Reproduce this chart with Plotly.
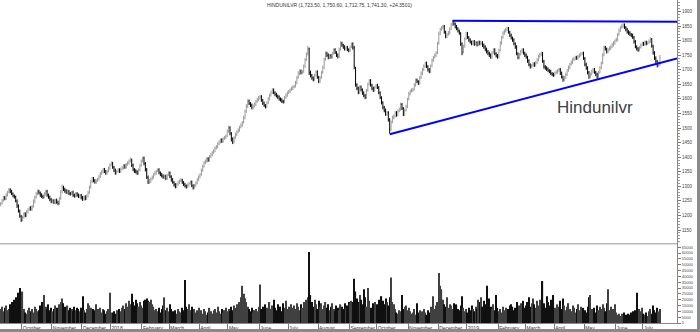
import plotly.graph_objects as go
import pandas as pd

TITLE = "HINDUNILVR (1,723.50, 1,750.60, 1,712.75, 1,741.30, +24.3501)"
LABEL = "Hindunilvr"
START_DATE = "2017-09-08"

OPEN = [
    1236,1241,1252,1262,1257,1270,1280,1288,1283,1274,
    1267,1263,1249,1233,1214,1197,1185,1193,1206,1199,
    1211,1220,1227,1221,1231,1247,1263,1274,1283,1277,
    1271,1265,1263,1273,1283,1269,1263,1254,1248,1251,
    1243,1253,1245,1240,1259,1281,1297,1289,1285,1278,
    1283,1275,1274,1280,1269,1265,1275,1269,1264,1269,
    1262,1255,1264,1257,1267,1279,1297,1316,1327,1319,
    1313,1319,1325,1333,1344,1349,1358,1351,1345,1352,
    1361,1373,1379,1365,1356,1345,1351,1357,1351,1359,
    1363,1371,1365,1375,1379,1387,1390,1373,1357,1353,
    1350,1344,1357,1371,1387,1397,1377,1358,1331,1313,
    1317,1325,1331,1341,1345,1353,1357,1346,1341,1335,
    1330,1335,1326,1339,1346,1333,1323,1313,1306,1298,
    1307,1312,1319,1321,1313,1307,1301,1299,1303,1311,
    1315,1302,1296,1303,1311,1323,1331,1341,1354,1369,
    1381,1385,1395,1389,1402,1407,1416,1421,1431,1435,
    1446,1451,1460,1454,1463,1467,1473,1489,1501,1481,
    1463,1451,1467,1477,1487,1492,1503,1509,1519,1535,
    1557,1574,1593,1584,1579,1569,1575,1581,1591,1597,
    1603,1608,1595,1586,1577,1572,1587,1599,1613,1621,
    1631,1621,1616,1609,1607,1599,1597,1591,1589,1605,
    1612,1621,1625,1631,1635,1641,1643,1655,1673,1687,
    1695,1689,1694,1711,1735,1753,1772,1691,1681,1671,
    1667,1681,1693,1674,1659,1673,1691,1707,1736,1757,
    1751,1741,1749,1743,1757,1769,1759,1751,1744,1771,
    1791,1784,1779,1771,1777,1769,1765,1779,1789,1776,
    1705,1648,1637,1621,1641,1631,1621,1611,1604,1629,
    1651,1663,1647,1637,1629,1639,1647,1639,1621,1604,
    1587,1571,1561,1547,1553,1529,1496,1521,1535,1541,
    1553,1544,1559,1563,1581,1567,1547,1561,1573,1599,
    1617,1626,1629,1633,1647,1665,1659,1653,1673,1687,
    1701,1711,1723,1711,1701,1693,1713,1732,1743,1749,
    1759,1791,1823,1839,1843,1849,1829,1813,1821,1826,
    1841,1854,1865,1857,1849,1841,1833,1825,1789,1761,
    1781,1806,1825,1811,1803,1795,1789,1797,1787,1793,
    1785,1795,1789,1793,1785,1779,1771,1763,1757,1751,
    1743,1759,1769,1755,1749,1743,1767,1791,1811,1825,
    1833,1837,1843,1829,1819,1809,1803,1789,1779,1755,
    1741,1753,1761,1769,1757,1751,1743,1731,1717,1709,
    1715,1721,1715,1725,1733,1746,1751,1757,1729,1711,
    1707,1703,1697,1695,1687,1685,1681,1689,1691,1697,
    1701,1689,1675,1665,1673,1683,1697,1707,1719,1725,
    1735,1737,1743,1739,1746,1749,1755,1757,1739,1719,
    1707,1691,1675,1685,1693,1701,1691,1685,1675,1691,
    1707,1723,1751,1777,1771,1761,1769,1773,1779,1785,
    1791,1799,1803,1821,1835,1845,1849,1855,1845,1839,
    1831,1827,1821,1819,1811,1797,1779,1773,1767,1777,
    1785,1791,1787,1795,1789,1793,1797,1805,1781,1759,
    1741,1729,1715,1723.5,
]

HIGH = [
    1246,1257,1267,1267,1276,1284,1294,1293,1288,1279,
    1272,1268,1255,1238,1220,1202,1199,1211,1211,1218,
    1225,1231,1232,1236,1255,1268,1281,1289,1288,1282,
    1276,1271,1280,1288,1288,1275,1268,1260,1256,1256,
    1257,1258,1251,1264,1287,1306,1302,1295,1290,1288,
    1288,1281,1284,1285,1275,1280,1280,1275,1274,1274,
    1267,1268,1269,1272,1284,1303,1322,1332,1332,1325,
    1324,1329,1340,1349,1356,1363,1363,1356,1357,1368,
    1378,1386,1384,1370,1361,1356,1362,1362,1364,1370,
    1376,1376,1380,1386,1392,1399,1395,1378,1363,1359,
    1355,1361,1376,1392,1402,1402,1383,1363,1337,1324,
    1330,1337,1345,1352,1357,1362,1362,1351,1346,1341,
    1340,1340,1343,1351,1351,1338,1328,1318,1311,1312,
    1319,1323,1328,1326,1318,1312,1306,1310,1315,1320,
    1320,1307,1308,1317,1328,1338,1345,1361,1374,1387,
    1392,1400,1400,1407,1414,1421,1427,1436,1442,1451,
    1458,1464,1465,1468,1473,1478,1495,1508,1506,1486,
    1468,1472,1484,1492,1499,1508,1516,1524,1543,1563,
    1582,1599,1598,1589,1584,1580,1588,1596,1604,1610,
    1613,1613,1600,1591,1582,1592,1606,1618,1628,1637,
    1636,1626,1621,1615,1612,1605,1602,1597,1610,1619,
    1626,1631,1636,1642,1646,1648,1662,1679,1695,1701,
    1701,1699,1718,1740,1760,1782,1776,1697,1686,1677,
    1686,1698,1698,1679,1678,1696,1714,1741,1763,1762,
    1756,1754,1754,1761,1774,1774,1764,1756,1776,1798,
    1796,1789,1784,1781,1782,1774,1783,1794,1794,1782,
    1710,1654,1642,1646,1646,1636,1626,1617,1634,1656,
    1668,1668,1652,1642,1644,1651,1652,1644,1626,1609,
    1592,1576,1567,1558,1558,1534,1526,1542,1546,1558,
    1558,1564,1570,1587,1586,1572,1566,1580,1604,1624,
    1631,1636,1638,1654,1670,1670,1664,1678,1694,1706,
    1718,1728,1728,1716,1706,1718,1739,1748,1756,1764,
    1796,1831,1844,1850,1854,1854,1834,1826,1833,1846,
    1861,1868,1867,1862,1854,1846,1838,1829,1794,1786,
    1811,1830,1830,1816,1808,1800,1802,1802,1798,1798,
    1800,1800,1798,1798,1790,1784,1776,1768,1762,1756,
    1764,1774,1774,1760,1754,1772,1798,1816,1832,1839,
    1844,1848,1847,1834,1824,1814,1808,1794,1784,1760,
    1758,1768,1774,1774,1762,1756,1748,1736,1722,1720,
    1726,1726,1730,1740,1751,1758,1762,1761,1734,1716,
    1712,1708,1702,1700,1692,1690,1694,1698,1702,1706,
    1706,1694,1680,1678,1690,1702,1714,1724,1732,1740,
    1744,1748,1748,1751,1756,1760,1762,1762,1744,1724,
    1712,1696,1690,1700,1706,1706,1696,1690,1696,1712,
    1728,1757,1783,1782,1776,1774,1780,1784,1792,1798,
    1804,1810,1826,1842,1850,1856,1860,1859,1850,1844,
    1836,1832,1826,1824,1816,1802,1784,1778,1782,1790,
    1796,1796,1800,1800,1798,1804,1812,1809,1786,1764,
    1746,1734,1728,1750.6,
]

LOW = [
    1231,1237,1247,1252,1253,1265,1276,1276,1270,1262,
    1258,1245,1226,1210,1192,1178,1180,1189,1194,1194,
    1206,1216,1216,1216,1227,1242,1258,1269,1272,1264,
    1260,1257,1259,1268,1264,1257,1249,1242,1242,1239,
    1238,1240,1235,1236,1254,1276,1284,1278,1274,1273,
    1270,1268,1270,1264,1261,1261,1264,1260,1259,1255,
    1250,1251,1252,1253,1262,1274,1292,1311,1314,1309,
    1308,1315,1320,1329,1339,1345,1346,1340,1340,1348,
    1356,1369,1360,1349,1340,1340,1347,1346,1346,1355,
    1358,1360,1361,1370,1375,1382,1366,1352,1346,1344,
    1339,1340,1352,1367,1382,1372,1351,1325,1308,1308,
    1312,1321,1326,1337,1340,1349,1341,1335,1330,1326,
    1325,1321,1322,1335,1328,1316,1309,1299,1293,1293,
    1302,1308,1314,1308,1301,1296,1292,1294,1299,1306,
    1297,1289,1292,1298,1307,1318,1327,1336,1350,1364,
    1376,1381,1384,1385,1397,1403,1411,1417,1426,1431,
    1441,1447,1449,1450,1459,1462,1469,1484,1475,1454,
    1445,1447,1463,1472,1483,1487,1499,1504,1515,1530,
    1552,1569,1579,1572,1564,1564,1571,1576,1587,1592,
    1598,1590,1579,1572,1567,1568,1582,1595,1608,1617,
    1616,1609,1605,1600,1594,1591,1586,1584,1585,1600,
    1607,1617,1620,1627,1630,1636,1639,1650,1669,1681,
    1684,1685,1689,1707,1730,1749,1682,1674,1666,1660,
    1662,1677,1669,1654,1655,1669,1686,1703,1731,1744,
    1736,1737,1738,1739,1752,1754,1744,1739,1740,1766,
    1779,1772,1766,1766,1764,1760,1761,1775,1769,1702,
    1642,1630,1616,1617,1626,1614,1606,1599,1600,1625,
    1646,1642,1630,1624,1625,1635,1634,1616,1599,1581,
    1564,1554,1542,1542,1522,1482,1491,1516,1530,1536,
    1539,1540,1554,1559,1562,1541,1542,1557,1568,1595,
    1612,1622,1624,1629,1642,1654,1648,1649,1669,1682,
    1696,1707,1706,1694,1688,1689,1709,1727,1739,1744,
    1754,1786,1819,1834,1839,1824,1808,1809,1817,1821,
    1837,1850,1852,1842,1836,1828,1820,1782,1750,1756,
    1776,1802,1806,1796,1790,1784,1785,1782,1783,1780,
    1781,1784,1785,1778,1772,1764,1756,1750,1744,1738,
    1738,1755,1750,1742,1738,1739,1763,1786,1807,1820,
    1828,1833,1824,1812,1804,1796,1784,1772,1750,1736,
    1736,1749,1757,1752,1744,1738,1724,1712,1704,1705,
    1710,1710,1711,1720,1729,1741,1747,1724,1704,1700,
    1696,1692,1688,1682,1678,1676,1677,1685,1686,1693,
    1682,1670,1659,1661,1669,1678,1693,1702,1715,1720,
    1730,1733,1734,1735,1741,1745,1750,1734,1712,1700,
    1684,1669,1671,1680,1689,1686,1678,1669,1671,1687,
    1702,1719,1746,1766,1756,1757,1765,1768,1775,1780,
    1786,1795,1798,1817,1830,1841,1844,1840,1832,1824,
    1820,1816,1812,1806,1790,1774,1766,1762,1763,1773,
    1780,1782,1783,1784,1785,1789,1792,1776,1752,1734,
    1722,1708,1710,1712.75,
]

CLOSE = [
    1240,1252,1261,1258,1270,1279,1287,1282,1275,1268,
    1264,1250,1232,1215,1198,1184,1192,1205,1200,1212,
    1219,1226,1222,1230,1248,1262,1275,1282,1278,1270,
    1266,1262,1274,1282,1270,1262,1255,1247,1250,1244,
    1252,1246,1241,1258,1280,1296,1290,1284,1279,1282,
    1276,1273,1279,1270,1266,1274,1270,1265,1268,1261,
    1256,1263,1258,1266,1278,1296,1315,1326,1320,1314,
    1318,1324,1334,1343,1350,1357,1352,1346,1351,1362,
    1372,1378,1366,1355,1346,1350,1356,1352,1358,1364,
    1370,1366,1374,1380,1386,1391,1372,1358,1352,1349,
    1345,1356,1370,1386,1396,1378,1357,1332,1314,1318,
    1324,1332,1340,1346,1352,1356,1347,1340,1336,1331,
    1334,1327,1338,1345,1334,1322,1314,1305,1299,1306,
    1313,1318,1322,1314,1306,1302,1298,1304,1310,1314,
    1303,1295,1302,1312,1322,1332,1340,1355,1368,1380,
    1386,1394,1390,1401,1408,1415,1422,1430,1436,1445,
    1452,1459,1455,1462,1468,1472,1488,1500,1482,1462,
    1452,1466,1478,1486,1493,1502,1510,1518,1536,1556,
    1575,1592,1585,1578,1570,1574,1582,1590,1598,1604,
    1607,1596,1585,1578,1573,1586,1600,1612,1622,1630,
    1622,1615,1610,1606,1600,1596,1592,1590,1604,1613,
    1620,1626,1630,1636,1640,1642,1656,1672,1688,1694,
    1690,1693,1712,1734,1752,1776,1690,1680,1672,1666,
    1680,1692,1675,1660,1672,1690,1708,1735,1756,1750,
    1742,1748,1744,1756,1768,1760,1750,1745,1770,1790,
    1785,1778,1772,1776,1770,1766,1778,1788,1775,1712,
    1650,1636,1622,1640,1632,1620,1612,1605,1628,1650,
    1662,1648,1636,1630,1638,1646,1640,1622,1605,1588,
    1570,1560,1548,1552,1530,1495,1520,1536,1540,1552,
    1545,1558,1564,1580,1568,1548,1560,1574,1598,1618,
    1625,1630,1632,1648,1664,1660,1654,1672,1688,1700,
    1712,1722,1712,1700,1694,1712,1733,1742,1750,1758,
    1790,1824,1838,1844,1848,1830,1814,1820,1827,1840,
    1855,1864,1858,1848,1842,1834,1826,1790,1760,1780,
    1805,1824,1812,1802,1796,1790,1796,1788,1792,1786,
    1794,1790,1792,1784,1778,1770,1762,1756,1750,1744,
    1758,1768,1756,1748,1744,1766,1792,1810,1826,1832,
    1838,1842,1830,1818,1810,1802,1790,1778,1756,1742,
    1752,1762,1768,1758,1750,1744,1730,1718,1710,1714,
    1720,1716,1724,1734,1745,1752,1756,1730,1710,1706,
    1702,1698,1694,1688,1684,1682,1688,1692,1696,1700,
    1688,1676,1666,1672,1684,1696,1708,1718,1726,1734,
    1738,1742,1740,1745,1750,1754,1756,1740,1718,1706,
    1690,1676,1684,1694,1700,1692,1684,1676,1690,1706,
    1722,1750,1776,1772,1762,1768,1774,1778,1786,1792,
    1798,1804,1820,1836,1844,1850,1854,1846,1838,1830,
    1826,1822,1818,1812,1796,1780,1772,1768,1776,1784,
    1790,1788,1794,1790,1792,1798,1804,1782,1758,1740,
    1728,1716,1722,1741.3,
]

VOLUME = [
    12000,14000,10000,13000,15000,11000,12000,16000,18000,14000,
    20000,22000,19000,26000,30000,24000,27000,12000,9000,8000,
    11000,13000,10000,12000,9000,14000,12000,10000,11000,15000,
    18000,13000,24000,14000,12000,16000,11000,13000,10000,12000,
    15000,13000,11000,16000,18000,21000,17000,14000,12000,15000,
    11000,13000,12000,10000,14000,11000,13000,12000,10000,13000,
    23000,11000,9000,12000,17000,15000,13000,10000,12000,11000,
    16000,12000,10000,13000,9000,12000,11000,8000,10000,12000,
    26000,9000,9000,10000,8000,11000,9000,12000,10000,13000,
    15000,12000,17000,14000,19000,16000,25000,18000,15000,20000,
    17000,14000,18000,15000,13000,19000,20000,21000,19000,18000,
    20000,16000,14000,11000,12000,10000,13000,9000,12000,15000,
    22000,11000,13000,10000,16000,12000,10000,9000,11000,8000,
    12000,10000,9000,13000,11000,37000,14000,12000,16000,11000,
    14000,10000,12000,9000,11000,13000,9000,11000,8000,12000,
    10000,7000,9000,13000,10000,8000,11000,12000,9000,14000,
    10000,8000,12000,9000,11000,13000,10000,12000,10000,14000,
    11000,15000,13000,16000,12000,18000,22000,32000,25000,21000,
    18000,14000,12000,10000,13000,9000,11000,12000,10000,14000,
    33000,12000,14000,10000,16000,13000,11000,18000,12000,15000,
    20000,13000,11000,16000,12000,14000,10000,17000,13000,19000,
    12000,14000,11000,16000,13000,15000,12000,17000,14000,11000,
    16000,13000,18000,15000,20000,22000,61000,24000,18000,14000,
    20000,16000,12000,19000,14000,17000,12000,15000,18000,13000,
    16000,11000,14000,17000,12000,10000,15000,13000,11000,16000,
    14000,12000,17000,13000,15000,18000,17000,19000,18000,38000,
    27000,21000,18000,24000,20000,16000,29000,22000,14000,30000,
    19000,13000,11000,17000,18000,15000,16000,20000,17000,23000,
    19000,16000,21000,18000,15000,22000,39000,18000,16000,12000,
    9000,8000,11000,10000,24000,12000,14000,15000,11000,13000,
    10000,8000,9000,12000,7000,17000,9000,11000,8000,10000,
    12000,9000,7000,11000,9000,14000,10000,23000,12000,15000,
    18000,43000,32000,29000,20000,16000,14000,22000,13000,16000,
    15000,12000,17000,14000,16000,12000,11000,15000,23000,13000,
    10000,12000,9000,13000,11000,15000,12000,10000,14000,12000,
    20000,18000,22000,14000,19000,16000,32000,17000,21000,14000,
    12000,16000,11000,24000,13000,10000,12000,9000,14000,11000,
    13000,10000,12000,15000,16000,14000,11000,13000,18000,12000,
    15000,17000,14000,19000,13000,15000,18000,22000,14000,17000,
    21000,16000,13000,19000,15000,20000,14000,36000,17000,13000,
    23000,18000,15000,20000,16000,24000,13000,12000,16000,14000,
    19000,12000,21000,15000,11000,14000,17000,12000,10000,15000,
    13000,9000,12000,16000,11000,14000,10000,13000,11000,9000,
    14000,22000,24000,12000,10000,13000,9000,15000,11000,14000,
    12000,16000,13000,10000,17000,29000,11000,14000,9000,12000,
    16000,9000,7000,8000,6000,8000,7000,9000,7000,6000,
    8000,7000,9000,10000,8000,11000,26000,9000,12000,10000,
    13000,8000,7000,9000,6000,10000,12000,8000,15000,11000,
    9000,13000,10000,12000,
]

# hand-drawn trend lines: (bar index, price)
RESISTANCE_X = [331, 495.5]
RESISTANCE_Y = [1868, 1865]
SUPPORT_X = [285, 495.5]
SUPPORT_Y = [1479, 1739]

n = len(CLOSE)
dates = pd.bdate_range(START_DATE, periods=n)
idx = list(range(n))

tickvals, ticktext = [], []
for i in range(1, n):
    if dates[i].month != dates[i - 1].month:
        tickvals.append(i - 0.5)
        ticktext.append(str(dates[i].year) if dates[i].month == 1 else dates[i].strftime("%B"))

W, H = 700, 332
ML, MR, MT, MB = 0, 23, 0, 9
PW, PH = W - ML - MR, H - MT - MB

def py(p):  # pixel y (from top) -> paper y
    return 1 - (p - MT) / PH

def px(p):
    return (p - ML) / PW

price_dom = [py(243.5), 1]
vol_dom = [0, py(244)]

vcolors = ["#404040" if c >= o else "#101010" for o, c in zip(OPEN, CLOSE)]

fig = go.Figure()
fig.add_trace(go.Ohlc(
    x=idx, open=OPEN, high=HIGH, low=LOW, close=CLOSE,
    increasing=dict(line=dict(color="#9a9a9a", width=1)),
    decreasing=dict(line=dict(color="#000000", width=1)),
    tickwidth=0.3, xaxis="x", yaxis="y", hoverinfo="skip", showlegend=False,
))
fig.add_trace(go.Bar(
    x=idx, y=VOLUME, marker=dict(color=vcolors, line=dict(width=0)),
    xaxis="x", yaxis="y2", hoverinfo="skip", showlegend=False,
))
fig.add_trace(go.Scatter(x=RESISTANCE_X, y=RESISTANCE_Y, mode="lines",
                         line=dict(color="#0000ff", width=2), yaxis="y", showlegend=False, hoverinfo="skip"))
fig.add_trace(go.Scatter(x=SUPPORT_X, y=SUPPORT_Y, mode="lines",
                         line=dict(color="#0000ff", width=2), yaxis="y", showlegend=False, hoverinfo="skip"))

fig.update_layout(
    width=W, height=H, autosize=False,
    margin=dict(l=ML, r=MR, t=MT, b=MB, pad=0),
    paper_bgcolor="white", plot_bgcolor="white",
    font=dict(family="Liberation Sans, Arial, sans-serif", color="#333"),
    bargap=0.15, showlegend=False,
    xaxis=dict(
        range=[-0.5, 495.5], anchor="y2", tickmode="array", tickvals=tickvals, ticktext=ticktext,
        ticks="outside", ticklen=7, tickcolor="#777", tickwidth=1, tickangle=0,
        ticklabelposition="outside right", tickfont=dict(size=5, color="#333"),
        showline=True, linecolor="#888", linewidth=1, showgrid=False, zeroline=False,
        rangeslider=dict(visible=False), fixedrange=True,
    ),
    yaxis=dict(
        domain=price_dom, range=[1103.7, 1939.5], side="right", anchor="x",
        tickmode="linear", tick0=1150, dtick=50, tickformat="d",
        ticks="outside", ticklen=3, tickcolor="#777", tickfont=dict(size=4.5, color="#444"),
        minor=dict(tickmode="linear", tick0=1100, dtick=10, ticks="outside", ticklen=1.5, tickcolor="#999"),
        showline=True, linecolor="#888", linewidth=1, showgrid=False, zeroline=False, fixedrange=True,
    ),
    yaxis2=dict(
        domain=vol_dom, range=[0, 67800], side="right", anchor="x",
        tickmode="linear", tick0=5000, dtick=5000, tickformat="d",
        ticks="outside", ticklen=3, tickcolor="#777", tickfont=dict(size=4, color="#444"),
        showline=True, linecolor="#888", linewidth=1, showgrid=False, zeroline=False, fixedrange=True,
    ),
    shapes=[
        dict(type="line", xref="paper", yref="paper", x0=0, x1=1, y0=py(243.8), y1=py(243.8),
             line=dict(color="#999", width=1)),
        dict(type="rect", xref="paper", yref="paper", x0=px(697), x1=px(700), y0=py(332), y1=py(0),
             fillcolor="#8a8a8a", line=dict(width=0)),
        dict(type="rect", xref="paper", yref="paper", x0=px(0), x1=px(700), y0=py(332), y1=py(329),
             fillcolor="#8a8a8a", line=dict(width=0)),
    ],
    annotations=[
        dict(text=TITLE, xref="paper", yref="paper", x=px(339), y=py(5), xanchor="center", yanchor="middle",
             showarrow=False, font=dict(size=5, color="#333")),
        dict(text=LABEL, xref="paper", yref="paper", x=px(595), y=py(107), xanchor="center", yanchor="middle",
             showarrow=False,
             font=dict(size=17, color="#404040",
                       family="Liberation Sans Narrow, Arial Narrow, Liberation Sans, Arial")),
    ],
)

fig.write_html("out.html")
